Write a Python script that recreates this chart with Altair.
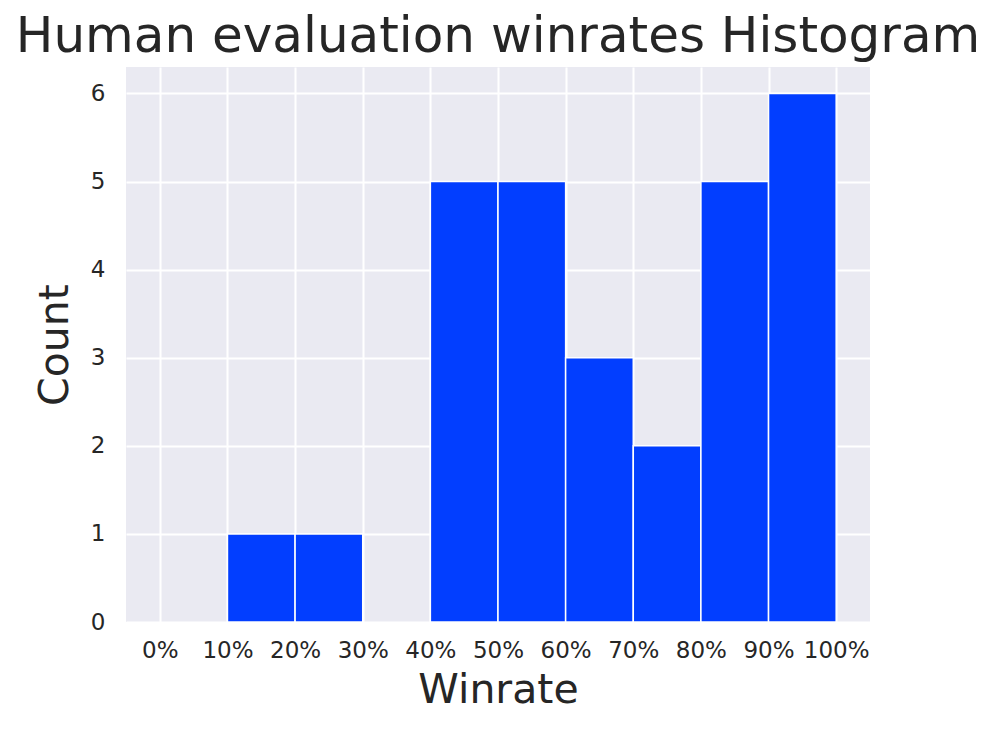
import altair as alt
import pandas as pd

bin_start = [0.0, 0.1, 0.2, 0.3, 0.4, 0.5, 0.6, 0.7, 0.8, 0.9]
bin_end = [0.1, 0.2, 0.3, 0.4, 0.5, 0.6, 0.7, 0.8, 0.9, 1.0]
counts = [0, 1, 1, 0, 5, 5, 3, 2, 5, 6]
x_ticks = [0.0, 0.1, 0.2, 0.3, 0.4, 0.5, 0.6, 0.7, 0.8, 0.9, 1.0]
y_ticks = [0, 1, 2, 3, 4, 5, 6]

df = pd.DataFrame({"start": bin_start, "end": bin_end, "count": counts})
df = df[df["count"] > 0]

font = "DejaVu Sans"
txt = "#262626"

chart = (
    alt.Chart(df)
    .mark_rect(color="#023EFF", stroke="white", strokeWidth=1.5)
    .encode(
        x=alt.X(
            "start:Q",
            scale=alt.Scale(domain=[-0.05, 1.05], nice=False, zero=False),
            axis=alt.Axis(
                values=x_ticks, format=".0%", title="Winrate",
                labelFontSize=23, titleFontSize=41, labelPadding=17,
                titlePadding=8, labelAngle=0,
            ),
        ),
        x2="end:Q",
        y=alt.Y(
            "count:Q",
            scale=alt.Scale(domain=[0, 6.3], nice=False),
            axis=alt.Axis(
                values=y_ticks, title="Count", labelFontSize=23,
                titleFontSize=41, labelPadding=21, titlePadding=14,
            ),
        ),
        y2=alt.datum(0),
    )
    .properties(
        width=744,
        height=555,
        title=alt.Title(
            "Human evaluation winrates Histogram", fontSize=50,
            font=font, color=txt, fontWeight="normal", offset=5,
        ),
        autosize=alt.AutoSizeParams(type="none"),
        padding={"left": 118, "top": 59, "right": 119, "bottom": 100},
        background="white",
    )
    .configure_view(fill="#EAEAF2", stroke=None)
    .configure_axis(
        grid=True, gridColor="white", gridWidth=2, domain=False, ticks=False,
        labelFont=font, titleFont=font, labelColor=txt, titleColor=txt,
        titleFontWeight="normal",
    )
)

chart.save("out.html", embed_options={"renderer": "svg", "actions": False})
